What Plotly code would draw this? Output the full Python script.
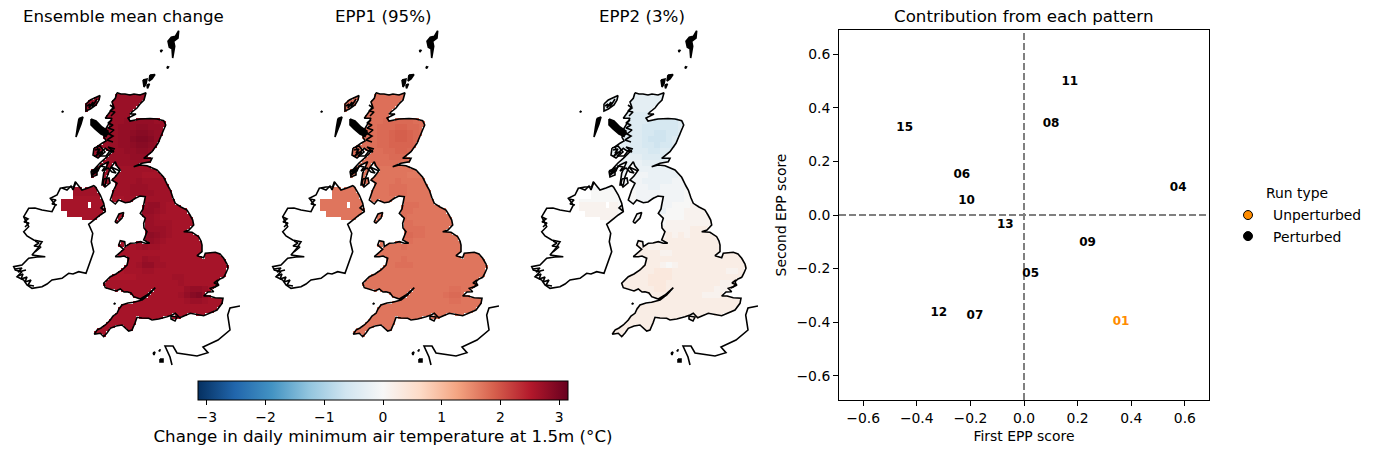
import numpy as np
import plotly.graph_objects as go

# ---- map outlines, in map units (left-to-right, top-to-bottom) ----
COAST_GB = [(635,92.7),(639,94),(643,94),(648,95),(652,94),(658,95),(664,92.7),(663,97),(662,100),(658,104),(655,108),(650,112),(648,114),
 (654,114),(649,116),(646,118),(648,121),(653,120),(658,119),(668,118.5),(675,119),(681.7,120.7),(683.7,125),(682,129),(680,133.3),(676,143.3),
 (670,151.7),(661.7,158.3),(670,158.3),(668.3,161.7),(660,163.3),(651.7,166.7),(658,165),(665,165.7),(675,170),(681.7,177.3),(686,186),(688.3,190),
 (691,198),(693.3,203.3),(699,207),(705,210),(708,215),(710.7,220),(711.7,225),(707,230),(701.7,231.7),(710,232.3),(716.7,236.7),(719,241),(720,245),
 (720,251.7),(715,255.7),(721.7,257.7),(723.3,253.3),(733.3,252.3),(738,254),(741.7,258.3),(745,264),(746,268.3),(744,273),(741.7,277.3),(738,279),(735,281.7),
 (736,284),(733.3,286.7),(728.3,288.3),(731.7,291.7),(726,292),(721.7,296),(727,296),(733.3,297.7),(741,298.3),(740,303.3),(735,310),(728,313),(721.7,315.7),
 (708.3,313.3),(697.7,317.7),(693.3,313.3),(690,315),(685,316.7),(676.7,319),(670,320),(666.7,318.3),(660,318),(655,317.3),(653.3,322.3),(650,330),(646.7,331),
 (643,328),(640,325),(634,326),(628.3,328.3),(625,333),(621.7,336.7),(618.3,333.3),(612.3,334.3),(615,330),(619,328),(623.3,325),(628.3,320),(631,316),(635,313.3),
 (637,309),(640,305),(646,303),(651.7,302.3),(660,300),(666.7,295),(673.3,287.7),(665,295),(658.3,299),(651.7,296.7),(649,293),(645,291.7),(642,292),(638.3,289),
 (634,291),(630,290),(626,289),(623.3,287.7),(621.7,283.3),(625,280),(628.3,276.7),(634,274),(640,270),(645,265),(646.7,258.3),(642,256),(638.3,256.7),(633.3,256.7),
 (638,252),(641.7,249.3),(636.7,245),(638.3,240.7),(642.7,241.7),(643.3,246.7),(648.3,243.3),(653,243),(658.3,241.7),(663.3,243.3),(667.7,243.3),(661.7,240),(665,231.7),(662,228),
 (661.7,223.3),(663.3,218.3),(658.3,213.3),(661,209),(661.7,205),(663.3,196.7),(658,196),(653.3,198.3),(648,202),(643.3,202.7),(636.7,200),(633.3,204),(628.3,200),(630,195),
 (631.7,190),(635,183.3),(630,180),(634,176),(638.3,170),(635,166),(633.3,161.7),(630,166),(628.3,168.3),(625,176.7),(623.3,185),(620,185),(621.7,173.3),(624,168),(626.7,161.7),
 (620,165),(615,170),(610,175),(613.3,168.3),(618,163),(623.3,158.3),(628,154),(631.7,150),(627,151),(623.3,148.3),(619,152),(613.3,156.7),(617,152),(615,146.7),(620,143.3),
 (624,141),(622,137),(626.7,133.3),(623,130),(625,126.7),(628,123),(630,118.3),(623.3,118.3),(627,113),(631.7,106.7),(630,102),(633.3,98.3)]
COAST_IRELAND = [(613.3,186.7),(618.3,195),(621.7,203.3),(623.3,211.7),(618.3,215),(610,221.7),(606.7,224.3),(610.7,233.3),(609.3,241.7),(611.7,251.7),(608.3,261.7),
 (604,273.3),(596.7,271.7),(591,274),(586.7,273.3),(580,278.3),(570,280),(565,284),(560,286.7),(550,288.3),(545,285),(541.7,280),(535,276.7),(540,271.7),(533.3,270),(531.7,266.7),
 (540,265),(546.7,258.3),(555,257),(563.3,256.7),(550,255),(556,248),(560,241.7),(551.7,240),(545,236),(541.7,231.7),(546.7,226.7),(541.7,216.7),(546.7,208.3),(553,208),(560,210),(570,211.7),
 (573.3,205),(568.3,198.3),(575,195),(578.3,188.3),(585,187),(591.7,186.7),(593.3,181.7),(600,190),(606,188),(611.7,185.7)]
ISLANDS = [
 [(604,104),(608.3,100),(618,95.5),(617,100),(614,105),(608.3,109),(604,111)],
 [(612,148),(618,146),(623,152),(616,158),(611,155)],
 [(609,171),(615,168),(615,175),(610,177)],
 [(622,179),(627,178),(628,183),(623,187),(621,183)],
 [(633,222),(637,214),(641.7,212.5),(640,218),(635,223)],
 [(580,111),(581,111.5),(580.5,112.5)],
 [(632,303),(633,303.5),(632.5,304.5)],
 [(689,316),(695,317),(693,321),(689,319)]]
SOLID_ISLANDS = [
 [(696.7,30.7),(693.3,36.3),(689.3,37.3),(686,41.3),(687.3,47.3),(690,48.7),(690.7,58),(692.7,46.3),(691.7,41.3),(696,38)],
 [(678.5,50),(680,50.5),(679,52)],[(685,66.5),(686.5,67),(685.5,68.5)],
 [(597,118.5),(601,117),(599,124),(596,131),(594,137),(595.5,127)],
 [(609,119),(614,121),(620,127),(626,131),(624,136.5),(619,134),(613,129),(609,125)],
 [(661,80),(665,79),(664,84),(662,87)],[(668,75),(673,74.5),(670,79),(667,81)],[(665,85),(667.5,84),(665.5,88.5)],
 [(671,353),(673,352),(672,355)],[(677,350),(678,350),(677.5,351.5)],[(678,359),(681,359),(681,362),(678,362)]]
COAST_FRANCE = [(758,306),(748,308),(745.7,315),(748,330),(736,340),(721,347),(726,352.7),(715,356),(695,353),(691,346),(683,346),(688,357),(690,365)]
COAST_DETAIL = [
 [(613,150),(618,149),(615,153),(621,152),(617,156),(624,156),(628,151),(632,152),(626,147),(633,149)],
 [(609,172),(614,170),(610,175),(616,171),(618,166),(623,167),(620,171),(626,168),(630,172),(634,173),(629,167),(638,171)],
 [(605,106),(608,104),(607,108),(611,102),(610,107),(615,99)],
 [(630,120),(626,123),(631,125),(626,128),(632,130),(627,134),(631,136),(625,140),(631,142)],
 [(628,105),(632,108),(628,111),(633,112),(629,116)],
 [(536,276),(541,274),(539,279),(545,277),(543,282),(549,280),(546,285),(552,286)],
 [(533,269),(540,268),(536,272),(544,270)],
 [(542,217),(546,219),(542,222),(547,223),(543,227)],
 [(553,241),(557,243),(552,246),(559,247),(553,252)],
 [(580,188),(585,190),(589,186),(591,190),(594,182)],
 [(569,199),(574,200),(570,204),(575,205)],
 [(622,205),(619,208),(623,211)],
 [(736,280),(732,283),(737,285),(731,288)]]
NI_BLOCK = [(580,198),(590,198),(590,188),(625,188),(625,221),(600,221),(600,217),(585,217),(585,212),(580,212)]
NI_HOLE = [(606.3,202.7),(609.7,202.7),(609.7,208.3),(606.3,208.3)]

# ---- gridded change fields: one digit per 6-unit cell, from map x 576 and y 88 ----
MEAN_ROWS = [
"55555555555555555555555555555","55555555555555555555555555555","55555555555555555555555555555","55555555555555555555555555555",
"55555555555566655555555555555","55555555555666665555555555555","55555555556667766555555555555","55555555556678876555555555555",
"55555555556689986555555555555","55555555556678876555555555555","55555555555667765444444444444","55555555555566654444444444444",
"44444444455555444444444444444","44444444444444443333333333333","44444444444444333333333333333","44444444444445444444444444444",
"44444444444455544444444444444","44444444444455554444444444444","33333333333444444444444444444","33333333333334566433333333333",
"33333333333345665433333333333","33333333333345554333333333333","33333333333334554443333333333","33333333333344555543333333333",
"33333333333345676543333333333","33333333333345665433333333333","33333333333334544333333333333","33333333333333333333333333333",
"33333333333333544333333333333","33333333333334664433333333333","22222222222333443333333333333","22222222222223333334433333333",
"33333333333333333333433333333","33333333333333333333356653333","33333333333333333333468964333","33333333333333333333345543333",
"33333333333333333333333333333","33333333333333333333333333333","33333333333333333333333333333","33333333333333333333333333333",
"33333333333333333333333333333","33333333333333333333333333333","33333333333333333333333333333"]
EPP1_ROWS = [
"44444444444444444444444444444","44444444444444444444444444444","44444444444444444444444444444","44444444444444444444444444444",
"44444444444445544444444444444","44444444444555554444444444444","44444444445556655444444444444","44444444445567765444444444444",
"44444444445567765444444444444","44444444445566665444444444444","44444444444556654333333333333","44444444444455543333333333333",
"33333333344444333333333333333","33333333333333332222222222222","33333333333333322222222222222","33333333333334333333333333333",
"33333333333344433333333333333","33333333333344433333333333333","33333333333333333333333333333","33333333333333444333333333333",
"33333333333334443333333333333","33333333333334433333333333333","33333333333333443333333333333","33333333333333444433333333333",
"33333333333334554433333333333","33333333333334443333333333333","33333333333333433333333333333","33333333333333333333333333333",
"33333333333333433333333333333","33333333333334443333333333333","33333333333333333333333333333","33333333333333333333333333333",
"33333333333333333333333333333","33333333333333333333334433333","33333333333333333333345533333","33333333333333333333334433333",
"33333333333333333333333333333","33333333333333333333333333333","33333333333333333333333333333","33333333333333333333333333333",
"33333333333333333333333333333","33333333333333333333333333333","33333333333333333333333333333"]
EPP2_ROWS = [
"33333333333333333333333333333","33333333333333333333333333333","33333333333333333333333333333","33333333333332223333333333333",
"33333333322221112233333333333","33333333222211111223344444444","33333333222111111223344444444","33333333222110011234444444444",
"33333333222100012234444444444","33333333322110112234444444444","33333333322211222334444444444","44444444433222233344444444444",
"44444444444333344444444444444","44444444444444444444444444444","55555555555544444555555555555","55555555555444445555555555555",
"55555555555544555555555555555","66666666665555555566666666666","66666666665555555566666666666","77777776666655556667777777777",
"77777776666665466677777777777","77777776666666666677777777777","77777776667667677777777777777","77777777777677777778888888888",
"77777788878777787878888888888","88888888888877888888888888888","88888888888877888888888888888","88888888888888778888888888888",
"88888888888888888888888888888","88888888888888767888888888888","88888888888889998888888887788","88888888888899998888888888888",
"88888888888899988888888877888","88888888888889988888888777888","88888888888888888888877788888","88888888888888888888888888888",
"88888888888888888888888888888","88888888888888888888888888888","88888888888888888888888888888","88888888888888888888888888888",
"88888888888888888888888888888","88888888888888888888888888888","88888888888888888888888888888"]
MEAN_BASE, MEAN_STEP = 2.47, 0.05
EPP1_BASE, EPP1_STEP = 1.55, 0.05
EPP2_BASE, EPP2_STEP = -0.65, 0.11

# ---- scatter panel ----
RUN_LABELS = ["15","11","08","06","04","10","13","09","05","12","07","01"]
EPP1_SCORE = [-0.445,0.171,0.101,-0.232,0.575,-0.214,-0.070,0.237,0.025,-0.318,-0.183,0.362]
EPP2_SCORE = [0.323,0.495,0.341,0.151,0.101,0.054,-0.039,-0.106,-0.219,-0.367,-0.376,-0.399]
UNPERTURBED = "01"
ORANGE = "#ff8c00"
TICKS = [-0.6,-0.4,-0.2,0.0,0.2,0.4,0.6]
CB_TICKS = [-3,-2,-1,0,1,2,3]
LIM = 3.15
RDBU_R = [[0,"#053061"],[0.1,"#2166ac"],[0.2,"#4393c3"],[0.3,"#92c5de"],[0.4,"#d1e5f0"],[0.5,"#f7f7f7"],
          [0.6,"#fddbc7"],[0.7,"#f4a582"],[0.8,"#d6604d"],[0.9,"#b2182b"],[1,"#67001f"]]
FONT = "DejaVu Sans"
W, H = 1376, 454
PANELS_X = [(8,240),(267,499),(526,758)]
MAP_TOP, MAP_BOTTOM = 30, 366
TITLES = [("Ensemble mean change",124),("EPP1 (95%)",383),("EPP2 (3%)",642)]
TITLE_SIZE = 16.67
TICK_SIZE = 13.9

def inside(poly, xx, yy):
    p = np.array(poly, float)
    res = np.zeros(xx.shape, bool)
    x0, y0 = p[:,0], p[:,1]
    x1, y1 = np.roll(x0,-1), np.roll(y0,-1)
    for a,b,c,d in zip(x0,y0,x1,y1):
        if b == d:
            continue
        cross = ((b > yy) != (d > yy)) & (xx < a + (yy-b)*(c-a)/(d-b))
        res ^= cross
    return res

cols, rows = 29, 43
sub_x = 576 + 1.5 + 3*np.arange(cols*2)
sub_y = 88 + 1.5 + 3*np.arange(rows*2)
XX, YY = np.meshgrid(sub_x, sub_y)
mask = inside(COAST_GB, XX, YY)
for isl in ISLANDS:
    mask |= inside(isl, XX, YY)
mask |= inside(NI_BLOCK, XX, YY) & inside(COAST_IRELAND, XX, YY)
mask &= ~inside(NI_HOLE, XX, YY)

def field(rows_, base, step):
    a = np.array([[base + step*int(ch) for ch in r.ljust(cols, r[-1])[:cols]] for r in rows_], float)
    a = np.repeat(np.repeat(a, 2, axis=0), 2, axis=1)
    a[~mask] = np.nan
    return a

def outline():
    xs, ys = [], []
    for poly in [COAST_GB, COAST_IRELAND] + ISLANDS:
        closed = poly + [poly[0]]
        xs += [p[0] for p in closed] + [None]
        ys += [p[1] for p in closed] + [None]
    for poly in [COAST_FRANCE] + COAST_DETAIL:
        xs += [p[0] for p in poly] + [None]
        ys += [p[1] for p in poly] + [None]
    return xs, ys

fig = go.Figure()
ox, oy = outline()
sx, sy = [], []
for poly in SOLID_ISLANDS:
    sx += [p[0] for p in poly] + [poly[0][0], None]
    sy += [p[1] for p in poly] + [poly[0][1], None]
fields = [field(MEAN_ROWS,MEAN_BASE,MEAN_STEP), field(EPP1_ROWS,EPP1_BASE,EPP1_STEP), field(EPP2_ROWS,EPP2_BASE,EPP2_STEP)]
for i,(z,(l,r)) in enumerate(zip(fields,PANELS_X)):
    suffix = "" if i==0 else str(i+1)
    kw = dict(showscale=False)
    if i==0:
        kw = dict(showscale=True, colorbar=dict(
            orientation="h", lenmode="pixels", len=370, thicknessmode="pixels", thickness=19,
            x=383/W, xanchor="center", y=1-381/H, yanchor="top", xpad=0, ypad=0,
            outlinecolor="black", outlinewidth=1, tickmode="array", tickvals=CB_TICKS,
            ticks="outside", ticklen=5, tickwidth=1, tickcolor="black",
            tickfont=dict(family=FONT,size=TICK_SIZE,color="black"),
            title=dict(text="Change in daily minimum air temperature at 1.5m (°C)", side="bottom",
                       font=dict(family=FONT,size=TITLE_SIZE,color="black"))))
    fig.add_trace(go.Heatmap(x=sub_x,y=sub_y,z=z,zmin=-LIM,zmax=LIM,colorscale=RDBU_R,hoverongaps=False,
                             xaxis="x"+suffix,yaxis="y"+suffix,showlegend=False,**kw))
    fig.add_trace(go.Scatter(x=ox,y=oy,mode="lines",line=dict(color="black",width=1.6),
                             xaxis="x"+suffix,yaxis="y"+suffix,showlegend=False,hoverinfo="skip"))
    fig.add_trace(go.Scatter(x=sx,y=sy,mode="lines",fill="toself",fillcolor="black",line=dict(color="black",width=1.6),
                             xaxis="x"+suffix,yaxis="y"+suffix,showlegend=False,hoverinfo="skip"))
    ax = dict(domain=[l/W,r/W],range=[526,758],visible=False,fixedrange=True)
    ay = dict(domain=[1-MAP_BOTTOM/H,1-MAP_TOP/H],range=[MAP_BOTTOM,MAP_TOP],visible=False,fixedrange=True,anchor="x"+suffix)
    ax["anchor"]="y"+suffix
    fig.update_layout(**{"xaxis"+suffix:ax,"yaxis"+suffix:ay})

axis_style = dict(range=[-0.69,0.69],tickmode="array",tickvals=TICKS,tickformat=".1f",showgrid=False,zeroline=False,
                  showline=True,mirror=True,linecolor="black",linewidth=1,ticks="outside",ticklen=5,tickwidth=1,tickcolor="black",
                  tickfont=dict(family=FONT,size=TICK_SIZE,color="black"))
fig.update_layout(
    xaxis4=dict(domain=[839/W,1209/W],anchor="y4",title=dict(text="First EPP score",font=dict(family=FONT,size=TICK_SIZE,color="black"),standoff=6),**axis_style),
    yaxis4=dict(domain=[1-400/H,1-30/H],anchor="x4",title=dict(text="Second EPP score",font=dict(family=FONT,size=TICK_SIZE,color="black"),standoff=6),**axis_style))

fig.add_trace(go.Scatter(x=[-0.69,0.69],y=[0,0],mode="lines",line=dict(color="#808080",width=2,dash="7px,3px"),xaxis="x4",yaxis="y4",showlegend=False,hoverinfo="skip"))
fig.add_trace(go.Scatter(x=[0,0],y=[-0.69,0.69],mode="lines",line=dict(color="#808080",width=2,dash="7px,3px"),xaxis="x4",yaxis="y4",showlegend=False,hoverinfo="skip"))
fig.add_trace(go.Scatter(x=EPP1_SCORE,y=EPP2_SCORE,text=RUN_LABELS,mode="text",xaxis="x4",yaxis="y4",showlegend=False,
    textposition="middle center",
    textfont=dict(family=FONT,size=12,weight="bold",color=[ORANGE if t==UNPERTURBED else "black" for t in RUN_LABELS])))
for name,col,grp in [("Unperturbed",ORANGE,"a"),("Perturbed","black","b")]:
    fig.add_trace(go.Scatter(x=[None],y=[None],mode="markers",name=name,legendgroup=grp,xaxis="x4",yaxis="y4",
                             marker=dict(color=col,size=9,line=dict(color="black",width=1))))

anns = [dict(text=t,x=cx/W,y=1-16/H,xref="paper",yref="paper",xanchor="center",yanchor="middle",showarrow=False,
             font=dict(family=FONT,size=TITLE_SIZE,color="black")) for t,cx in TITLES]
anns.append(dict(text="Contribution from each pattern",x=1023.5/W,y=1-16/H,xref="paper",yref="paper",xanchor="center",yanchor="middle",showarrow=False,
                 font=dict(family=FONT,size=TITLE_SIZE,color="black")))
anns.append(dict(text="Run type",x=1297/W,y=1-193/H,xref="paper",yref="paper",xanchor="center",yanchor="middle",showarrow=False,
                 font=dict(family=FONT,size=TICK_SIZE,color="black")))
fig.update_layout(width=W,height=H,margin=dict(l=0,r=0,t=0,b=0),autosize=False,paper_bgcolor="white",plot_bgcolor="white",
    annotations=anns,showlegend=True,
    legend=dict(x=1223/W,y=1-199.5/H,xanchor="left",yanchor="top",tracegroupgap=0,itemwidth=40,bgcolor="rgba(0,0,0,0)",
                font=dict(family=FONT,size=TICK_SIZE,color="black")),
    font=dict(family=FONT,color="black"))
fig.write_html("out.html",config={"displayModeBar":False},post_script="document.body.style.margin='0';document.body.style.overflow='hidden';")
